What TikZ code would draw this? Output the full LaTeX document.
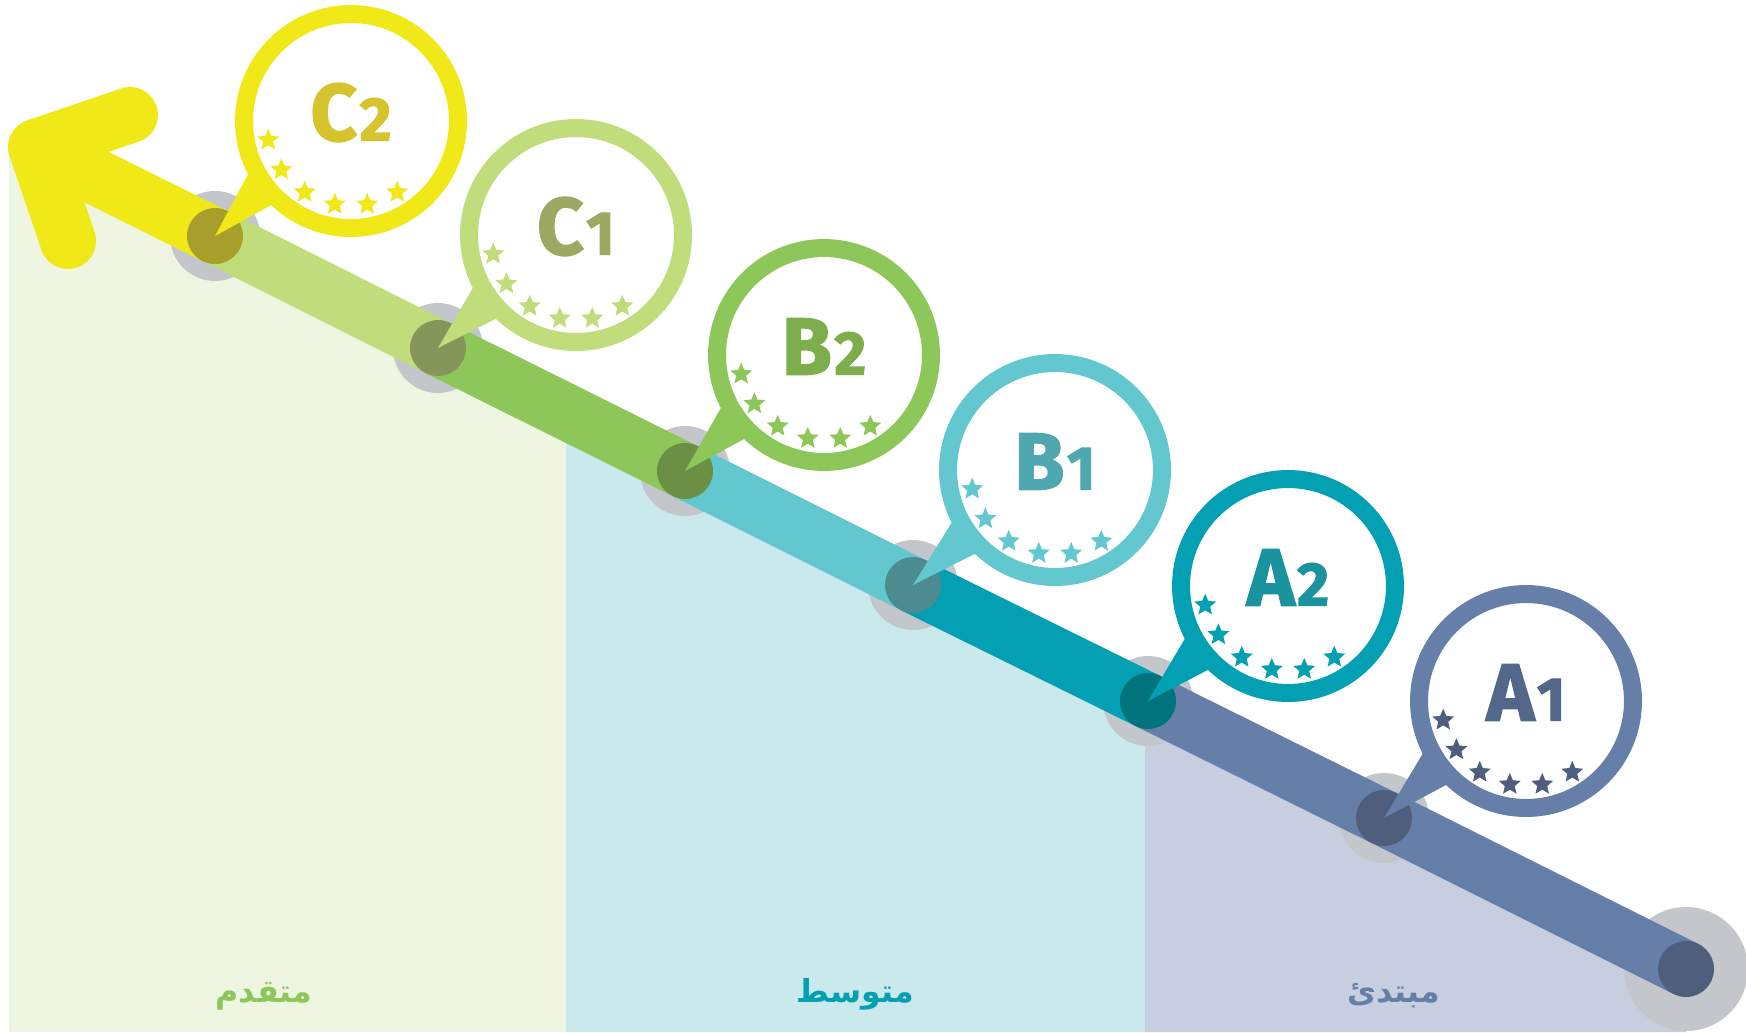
\documentclass[tikz,border=0pt]{standalone}
\usepackage{fontspec}
\usetikzlibrary{shapes.geometric}
\newfontfamily\lvlfont{Fira Sans}[BoldFeatures={FakeBold=2}]
\newfontfamily\arabicfont[Script=Arabic]{DejaVu Sans}
\TeXXeTstate=1

% level colours
\definecolor{cyellow}{HTML}{F0E817}
\definecolor{clgreen}{HTML}{C1DC7B}
\definecolor{cgreen}{HTML}{8DC75A}
\definecolor{clcyan}{HTML}{63C7CF}
\definecolor{cteal}{HTML}{02A0B2}
\definecolor{cslate}{HTML}{667FA8}
% dots
\definecolor{dyellow}{HTML}{A89E2B}
\definecolor{dlgreen}{HTML}{86955A}
\definecolor{dgreen}{HTML}{6A8F45}
\definecolor{dlcyan}{HTML}{4C8C91}
\definecolor{dteal}{HTML}{00737C}
\definecolor{dslate}{HTML}{4E5E7C}
% texts
\definecolor{tyellow}{HTML}{D6C42E}
\definecolor{tlgreen}{HTML}{9DA862}
\definecolor{tgreen}{HTML}{7DAE4B}
\definecolor{tlcyan}{HTML}{4FA8AF}
\definecolor{tteal}{HTML}{1A939F}
\definecolor{tslate}{HTML}{52678A}
% bands
\definecolor{bgreen}{HTML}{EEF5E0}
\definecolor{bcyan}{HTML}{C9E9EC}
\definecolor{bslate}{HTML}{C7CEDF}
\definecolor{halo}{HTML}{C3C6CA}

\newcommand{\lvltext}[2]{#1\kern1.5pt{\fontsize{35}{35}\selectfont#2}}

\begin{document}
\begin{tikzpicture}[x=0.02cm,y=-0.02cm,
  seg/.style={line width=1.12cm,#1},
  bubble/.style={circle,draw=#1,fill=white,line width=0.36cm,minimum size=4.28cm,
    inner sep=0pt,outer sep=0pt},
  lvl/.style={font=\lvlfont\bfseries\fontsize{46}{46}\selectfont},
  starmark/.style={star,star points=5,star point ratio=2.2,fill=#1,minimum size=0.46cm,inner sep=0pt},
  bandlabel/.style={anchor=base,font=\arabicfont\bfseries\fontsize{18}{18}\selectfont}]
\useasboundingbox (0,0) rectangle (1746,1032);

% Seviye bantlari
\fill[bgreen] (9,133) -- (566,411) -- (566,1032) -- (9,1032) -- cycle;
\fill[bcyan] (566,411) -- (1145,699) -- (1145,1032) -- (566,1032) -- cycle;
\fill[bslate] (1145,699) -- (1686,969) -- (1686,1032) -- (1145,1032) -- cycle;

% Noktalar
\coordinate (tip) at (36,147);
\coordinate (armup) at (130,115);
\coordinate (armdown) at (68,241);
\coordinate (c2) at (215,236);
\coordinate (c1) at (438,348);
\coordinate (b2) at (685,471);
\coordinate (b1) at (913,585);
\coordinate (a2) at (1148,701);
\coordinate (a1) at (1384,818);
\coordinate (start) at (1686,969);

\fill[halo] (c2) circle (0.9cm);
\fill[halo] (c1) circle (0.9cm);
\fill[halo] (b2) circle (0.9cm);
\fill[halo] (b1) circle (0.9cm);
\fill[halo] (a2) circle (0.9cm);
\fill[halo] (a1) circle (0.9cm);
\fill[halo] (start) circle (1.24cm);

% Ok
\draw[seg=cslate] (start) -- (a1) -- (a2);
\draw[seg=cteal] (a2) -- (b1);
\draw[seg=clcyan] (b1) -- (b2);
\draw[seg=cgreen] (b2) -- (c1);
\draw[seg=clgreen] (c1) -- (c2);
\draw[seg=cyellow] (c2) -- (tip);
\draw[seg=cyellow,line cap=round,line join=round] (armup) -- (tip) -- (armdown);

\fill[dyellow] (c2) circle (0.56cm);
\fill[dlgreen] (c1) circle (0.56cm);
\fill[dgreen] (b2) circle (0.56cm);
\fill[dlcyan] (b1) circle (0.56cm);
\fill[dteal] (a2) circle (0.56cm);
\fill[dslate] (a1) circle (0.56cm);
\fill[dslate] (start) circle (0.56cm);

% Baloncuklar
\node[bubble=cyellow] (bc2) at (351,121) {};
\fill[cyellow] (c2) -- (bc2.204) -- (bc2.228) -- cycle;
\node[lvl,text=tyellow] (lc2) at ([yshift=0.17cm]bc2) {\lvltext{C}{2}};
\foreach \a in {193,215,...,303}
  \node[starmark=cyellow] at ([shift={(\a:1.7cm)}]bc2) {};

\node[bubble=clgreen] (bc1) at (576,235) {};
\fill[clgreen] (c1) -- (bc1.204) -- (bc1.228) -- cycle;
\node[lvl,text=tlgreen] (lc1) at ([yshift=0.17cm]bc1) {\lvltext{C}{1}};
\foreach \a in {193,215,...,303}
  \node[starmark=clgreen] at ([shift={(\a:1.7cm)}]bc1) {};

\node[bubble=cgreen] (bb2) at (824,355) {};
\fill[cgreen] (b2) -- (bb2.204) -- (bb2.228) -- cycle;
\node[lvl,text=tgreen] (lb2) at ([yshift=0.17cm]bb2) {\lvltext{B}{2}};
\foreach \a in {193,215,...,303}
  \node[starmark=cgreen] at ([shift={(\a:1.7cm)}]bb2) {};

\node[bubble=clcyan] (bb1) at (1055,470) {};
\fill[clcyan] (b1) -- (bb1.204) -- (bb1.228) -- cycle;
\node[lvl,text=tlcyan] (lb1) at ([yshift=0.17cm]bb1) {\lvltext{B}{1}};
\foreach \a in {193,215,...,303}
  \node[starmark=clcyan] at ([shift={(\a:1.7cm)}]bb1) {};

\node[bubble=cteal] (ba2) at (1288,586) {};
\fill[cteal] (a2) -- (ba2.204) -- (ba2.228) -- cycle;
\node[lvl,text=tteal] (la2) at ([yshift=0.17cm]ba2) {\lvltext{A}{2}};
\foreach \a in {193,215,...,303}
  \node[starmark=cteal] at ([shift={(\a:1.7cm)}]ba2) {};

\node[bubble=cslate] (ba1) at (1526,701) {};
\fill[cslate] (a1) -- (ba1.204) -- (ba1.228) -- cycle;
\node[lvl,text=tslate] (la1) at ([yshift=0.17cm]ba1) {\lvltext{A}{1}};
\foreach \a in {193,215,...,303}
  \node[starmark=dslate] at ([shift={(\a:1.7cm)}]ba1) {};

% Bant etiketleri
\node[bandlabel,text=cgreen] (advanced) at (264,1002) {\beginR متقدم\endR};
\node[bandlabel,text=cteal] (intermediate) at (855,1002) {\beginR متوسط\endR};
\node[bandlabel,text=cslate] (beginner) at (1394,1002) {\beginR مبتدئ\endR};

\end{tikzpicture}
\end{document}
